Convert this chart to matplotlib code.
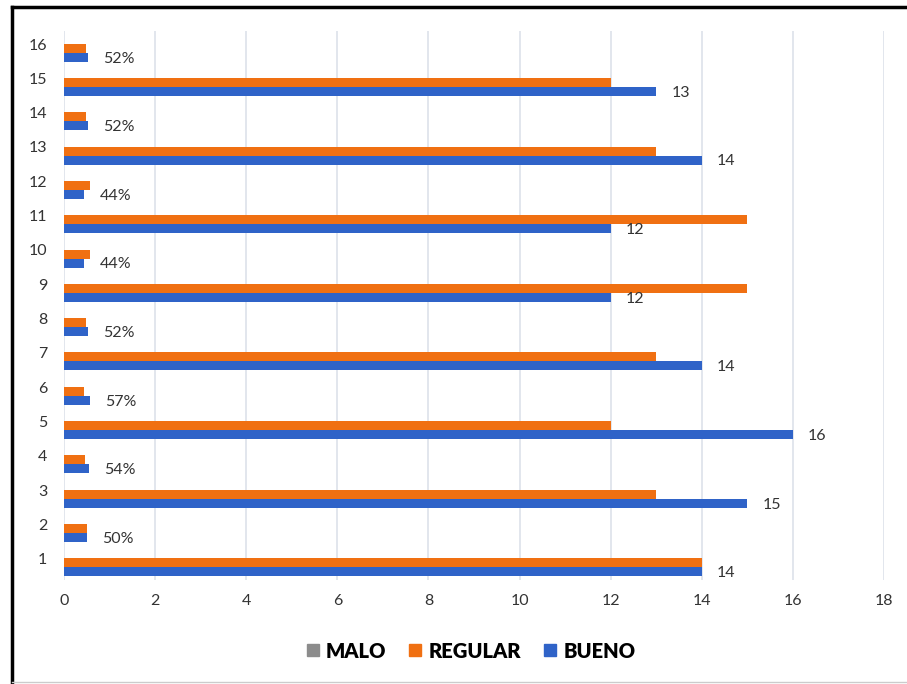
import numpy as np
import matplotlib.pyplot as plt
from matplotlib.lines import Line2D

# ---------------------------------------------------------
# data
# ---------------------------------------------------------

categories = [str(i) for i in range(1, 17)]

malo = [0] * 16
regular = [14, 0.50, 13, 0.46, 12, 0.43, 13, 0.48,
           15, 0.56, 15, 0.56, 13, 0.48, 12, 0.48]
bueno = [14, 0.50, 15, 0.54, 16, 0.57, 14, 0.52,
         12, 0.44, 12, 0.44, 14, 0.52, 13, 0.52]

series_names = ["MALO", "REGULAR", "BUENO"]
series_colors = ["#8c8c8c", "#f07012", "#2f63c8"]

x_ticks = [0, 2, 4, 6, 8, 10, 12, 14, 16, 18]


def bueno_label(v):
    if v < 1:
        return f"{round(v * 100):d}%"
    return f"{v:g}"


plt.rcParams['font.family'] = ['Lato', 'DejaVu Sans']

fig = plt.figure(figsize=(9.07, 6.84), dpi=100)
ax = fig.add_axes([64 / 907, 1 - 580 / 684, 820 / 907, 549 / 684])

y = np.arange(1, 17)
h = 0.262

# top to bottom inside each category: MALO, REGULAR, BUENO
offsets = [h, 0, -h]
for vals, off, color, name in zip([malo, regular, bueno], offsets,
                                  series_colors, series_names):
    ax.barh(y + off, vals, height=h, color=color, label=name, zorder=3)

for yi, v in zip(y, bueno):
    ax.annotate(bueno_label(v), (v, yi - h), xytext=(11, -1),
                textcoords="offset points", va="center", ha="left",
                fontsize=11.5, color="#333333")

ax.set_xlim(0, 18)
ax.set_ylim(0.5, 16.5)
ax.set_xticks(x_ticks)
ax.set_yticks(y + 0.12)
ax.set_yticklabels(categories)
ax.tick_params(axis="both", length=0, labelsize=11.5, colors="#333333")
ax.tick_params(axis="x", pad=10)
ax.tick_params(axis="y", pad=12)
ax.grid(axis="x", color="#dde1ea", linewidth=1.2, zorder=0)
for s in ax.spines.values():
    s.set_visible(False)

handles = [Line2D([], [], marker="s", linestyle="", markersize=8,
                  color=c) for c in series_colors]
fig.legend(handles, series_names, loc="center", ncol=3,
           bbox_to_anchor=(468 / 907, 1 - 651 / 684), frameon=False,
           prop={"weight": "heavy", "size": 14.5}, handletextpad=0.05,
           columnspacing=0.85, handlelength=1.2)

# outer frame of the screenshot
fig.add_artist(Line2D([12 / 907, 12 / 907], [1 - 7 / 684, 0.0],
                      transform=fig.transFigure, color="black", lw=2.5))
fig.add_artist(Line2D([12 / 907, 1.0], [1 - 7 / 684, 1 - 7 / 684],
                      transform=fig.transFigure, color="black", lw=2.5))
fig.add_artist(Line2D([12 / 907, 1.0], [1 - 682 / 684, 1 - 682 / 684],
                      transform=fig.transFigure, color="#cccccc", lw=1))

fig.savefig("out.png", dpi=100)
